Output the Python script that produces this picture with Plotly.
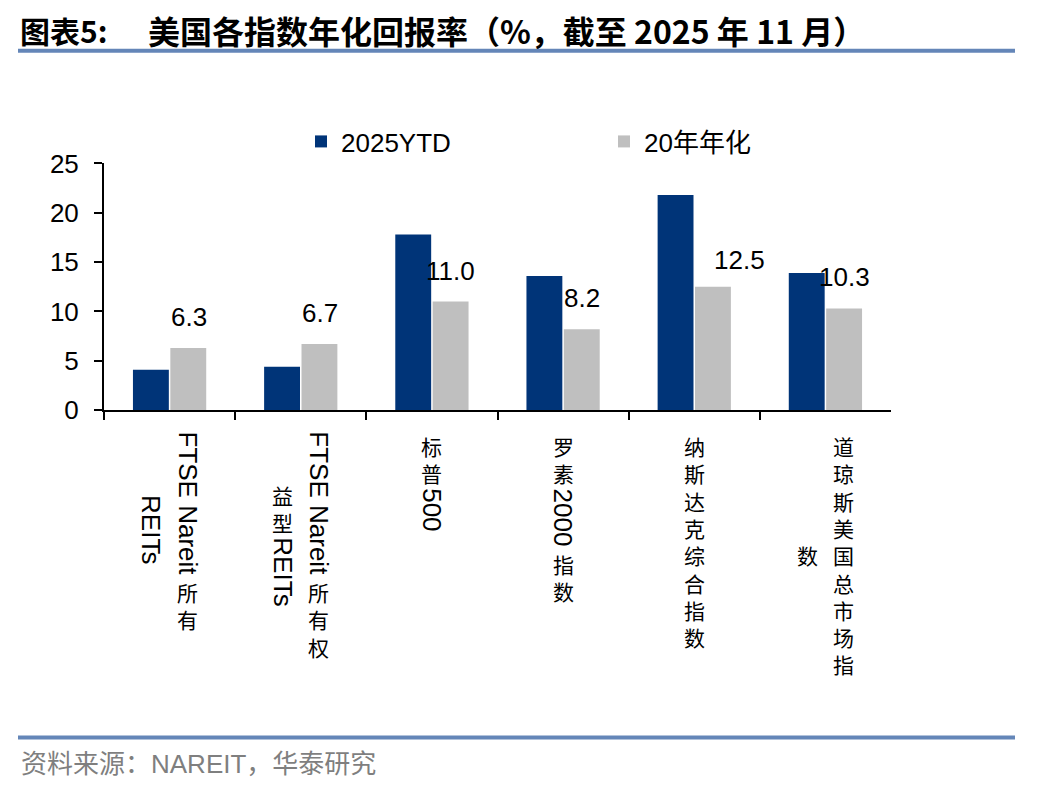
import plotly.graph_objects as go

# ---------------- data ----------------
categories = ["FTSE Nareit所有REITs", "FTSE Nareit所有权益型REITs", "标普500",
              "罗素2000指数", "纳斯达克综合指数", "道琼斯美国总市场指数"]
label_lines = [["FTSE Nareit所有", "REITs"], ["FTSE Nareit所有权", "益型REITs"], ["标普500"],
               ["罗素2000指数"], ["纳斯达克综合指数"], ["道琼斯美国总市场指", "数"]]
series_names = ["2025YTD", "20年年化"]
ytd_2025 = [4.1, 4.4, 17.8, 13.6, 21.8, 13.9]
annualized_20y = [6.3, 6.7, 11.0, 8.2, 12.5, 10.3]
y_ticks = [0, 5, 10, 15, 20, 25]

title_left = "图表5:"
title_main = "美国各指数年化回报率（%，截至 2025 年 11 月）"
source_text = "资料来源：NAREIT，华泰研究"

# ---------------- style / layout ----------------
W, H = 1048, 792
PL, PR, PT, PB = 104, 891, 163, 410   # plot area in target pixels
NAVY = "#003478"
GRAY = "#BFBFBF"
RULE = "#6486B8"
LAT = "Liberation Sans, Arial, sans-serif"
CJK = "Noto Sans CJK SC, sans-serif"
MIX = "Liberation Sans, Noto Sans CJK SC, sans-serif"

# page placement compensation (figure drawn with an offset in the viewer)
OX = 8.0
OY = 22.3
SY = 0.9636

def px_x(p):
    return (p - OX) / W

def px_y(p):
    return 1 - (p - OY) / (SY * H)

fig = go.Figure()
fig.add_trace(go.Bar(x=categories, y=ytd_2025, name=series_names[0],
                     marker=dict(color=NAVY, line=dict(width=0))))
fig.add_trace(go.Bar(x=categories, y=annualized_20y, name=series_names[1],
                     marker=dict(color=GRAY, line=dict(width=0))))

annotations = []
# value labels for the 20-year series (label offset tweaks in px)
label_dx = [0, 0, 0, 0, 26, 0]
label_dy = [31, 31, 31, 31, 27, 31]
for i, (c, v) in enumerate(zip(categories, annualized_20y)):
    annotations.append(dict(x=c, y=v, xref="x", yref="y", text=f"{v:.1f}",
                            showarrow=False, xanchor="center", yanchor="middle",
                            xshift=19 + label_dx[i], yshift=label_dy[i],
                            font=dict(family=LAT, size=26, color="black")))

# vertical category labels (Latin runs rotated, CJK characters upright)
LAT_FS = 26
CJK_FS = 21
LINE = 1.3
COL_PITCH = 36
RUN_GAP = 3
TOP0 = 430
widths = {"F": .611, "T": .611, "S": .667, "E": .667, " ": .278, "N": .722, "a": .556,
          "r": .333, "e": .556, "i": .222, "t": .278, "R": .722, "I": .278, "s": .5}

def split_runs(line):
    out = []
    for ch in line:
        t = "lat" if ord(ch) < 128 else "cjk"
        if out and out[-1][0] == t:
            out[-1][1] += ch
        else:
            out.append([t, ch])
    return out

def run_len(r):
    if r[0] == "lat":
        return sum(widths.get(ch, 0.556) for ch in r[1]) * LAT_FS
    return len(r[1]) * LINE * CJK_FS

for c, lines in zip(categories, label_lines):
    cols = [split_runs(l) for l in lines]
    lens = [sum(run_len(r) for r in col) + RUN_GAP * (len(col) - 1) for col in cols]
    maxlen = max(lens)
    n = len(cols)
    for ci, (col, L) in enumerate(zip(cols, lens)):
        dx = (n - 1) / 2 * COL_PITCH - ci * COL_PITCH
        cur = TOP0 + (maxlen - L) / 2
        for r in col:
            if r[0] == "lat":
                annotations.append(dict(x=c, xref="x", y=px_y(cur), yref="paper",
                                        text=r[1], textangle=90, showarrow=False,
                                        xanchor="center", yanchor="top", xshift=dx,
                                        borderpad=0,
                                        font=dict(family=LAT, size=LAT_FS, color="black")))
            else:
                annotations.append(dict(x=c, xref="x", y=px_y(cur), yref="paper",
                                        text="<br>".join(r[1]), showarrow=False,
                                        xanchor="center", yanchor="top", xshift=dx,
                                        borderpad=0, align="center",
                                        font=dict(family=CJK, size=CJK_FS, color="black")))
            cur += run_len(r) + RUN_GAP

# title, source
annotations.append(dict(x=px_x(18), y=px_y(29), xref="paper", yref="paper",
                        text=f"<b>{title_left}</b>", showarrow=False,
                        xanchor="left", yanchor="middle",
                        font=dict(family=CJK, size=30, color="black")))
annotations.append(dict(x=px_x(146), y=px_y(29), xref="paper", yref="paper",
                        text=f"<b>{title_main}</b>", showarrow=False,
                        xanchor="left", yanchor="middle",
                        font=dict(family=CJK, size=32, color="black")))
annotations.append(dict(x=px_x(19), y=px_y(764), xref="paper", yref="paper",
                        text=source_text, showarrow=False,
                        xanchor="left", yanchor="middle",
                        font=dict(family=MIX, size=26, color="#7F7F7F")))

shapes = [
    dict(type="line", xref="paper", yref="paper", x0=px_x(18), x1=px_x(1015),
         y0=px_y(50), y1=px_y(50), line=dict(color=RULE, width=4)),
    dict(type="line", xref="paper", yref="paper", x0=px_x(18), x1=px_x(1015),
         y0=px_y(738), y1=px_y(738), line=dict(color=RULE, width=4)),
]

fig.update_layout(
    width=W, height=H, autosize=False,
    margin=dict(l=0, r=0, t=0, b=0),
    paper_bgcolor="white", plot_bgcolor="white",
    barmode="group", bargap=0.43, bargroupgap=0.04,
    showlegend=True,
    legend=dict(orientation="h", x=px_x(301), xanchor="left", y=px_y(141), yanchor="middle",
                entrywidth=258, entrywidthmode="pixels", bgcolor="rgba(0,0,0,0)",
                font=dict(family=MIX, size=26, color="black"), traceorder="normal"),
    annotations=annotations,
    shapes=shapes,
    xaxis=dict(domain=[px_x(PL), px_x(PR)], showticklabels=False, tickson="boundaries",
               ticks="outside", ticklen=8, tickwidth=2, tickcolor="black",
               showline=True, linecolor="black", linewidth=2, showgrid=False,
               fixedrange=True),
    yaxis=dict(domain=[px_y(PB), px_y(PT)], range=[0, 25], tickvals=y_ticks,
               ticks="outside", ticklen=8, tickwidth=2, tickcolor="black",
               showline=True, linecolor="black", linewidth=2, showgrid=False,
               zeroline=False, ticklabelstandoff=10,
               tickfont=dict(family=LAT, size=26, color="black")),
)

fig.write_html("out.html")
